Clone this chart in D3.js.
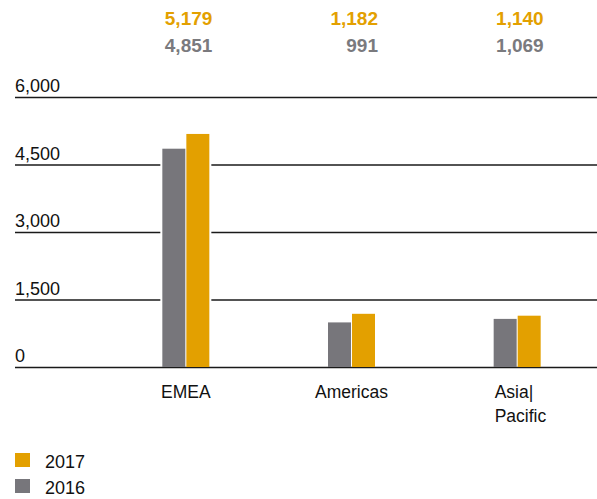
<!DOCTYPE html>
<html>
<head>
<meta charset="utf-8">
<script src="https://cdnjs.cloudflare.com/ajax/libs/d3/7.8.5/d3.min.js"></script>
<style>
  body { margin: 0; background: #fff; }
  svg { display: block; font-family: "Liberation Sans", Arial, sans-serif; }
</style>
</head>
<body>
<svg class="chart"></svg>
<script>
// data
const regions = ["EMEA", "Americas", "Asia|Pacific"];
const regionLines = [["EMEA"], ["Americas"], ["Asia|", "Pacific"]];
const years = ["2016", "2017"];
const values2016 = [4851, 991, 1069];
const values2017 = [5179, 1182, 1140];
const yTicks = [0, 1500, 3000, 4500, 6000];

const colors = {"2016": "#77767b", "2017": "#e3a000"};
const textColors = {"2016": "#7a7a7e", "2017": "#e3a000"};

const canvas = {width: 597, height: 499};
const plot = {left: 15, right: 597, top: 97, bottom: 367};

const svg = d3.select(".chart")
    .attr("width", canvas.width)
    .attr("height", canvas.height);

const y = d3.scaleLinear()
    .domain([0, 6000])
    .range([plot.bottom, plot.top]);

// category bands; centres at ~186, 351, 517
const x = d3.scaleBand()
    .domain(regions)
    .range([103, 600])
    .paddingInner(0)
    .paddingOuter(0);

const barW = 22.5, barGap = 2;
const xYear = d3.scaleBand()
    .domain(years)
    .range([-(barW + barGap / 2), barW + barGap / 2])
    .paddingInner(barGap / (barW * 2 + barGap));

// gridlines
const gAxis = svg.append("g")
    .attr("transform", "translate(" + plot.right + ",0)")
    .call(d3.axisRight(y).tickValues(yTicks).tickSize(-(plot.right - plot.left)).tickFormat(""));
gAxis.select(".domain").remove();
gAxis.selectAll(".tick line")
    .attr("stroke", "#1a1a1a")
    .attr("stroke-width", 1.3);

// tick labels sit above the lines on the left
svg.append("g").selectAll("text")
    .data(yTicks)
    .enter()
    .append("text")
    .attr("x", plot.left)
    .attr("y", d => y(d) - 5)
    .attr("font-size", 18)
    .attr("fill", "#111")
    .text(d => d3.format(",")(d));

const table = regions.map((r, i) => ({
    region: r,
    lines: regionLines[i],
    vals: [{year: "2016", v: values2016[i]}, {year: "2017", v: values2017[i]}]
}));

const groups = svg.selectAll(".region")
    .data(table)
    .enter()
    .append("g")
    .attr("class", "region")
    .attr("transform", d => "translate(" + (x(d.region) + x.bandwidth() / 2) + ",0)");

// white knockout behind the bars to break gridlines
groups.append("rect")
    .attr("x", -(barW + barGap / 2) - 2)
    .attr("width", barW * 2 + barGap + 4)
    .attr("y", d => y(d3.max(d.vals, v => v.v)) - 2)
    .attr("height", d => plot.bottom - 1 - (y(d3.max(d.vals, v => v.v)) - 2))
    .attr("fill", "#fff");

groups.selectAll(".bar")
    .data(d => d.vals)
    .enter()
    .append("rect")
    .attr("class", "bar")
    .attr("x", d => xYear(d.year))
    .attr("width", xYear.bandwidth())
    .attr("y", d => y(d.v))
    .attr("height", d => y(0) - y(d.v))
    .attr("fill", d => colors[d.year]);

// value labels at the top
groups.selectAll(".val")
    .data(d => d.vals)
    .enter()
    .append("text")
    .attr("class", "val")
    .attr("x", barW + barGap / 2 + 3)
    .attr("y", d => d.year === "2017" ? 25 : 52)
    .attr("text-anchor", "end")
    .attr("font-size", 19)
    .attr("font-weight", "bold")
    .attr("fill", d => textColors[d.year])
    .text(d => d3.format(",")(d.v));

// category labels
groups.each(function(d) {
    const g = d3.select(this);
    const t = g.append("text")
        .attr("font-size", 17.5)
        .attr("fill", "#111");
    d.lines.forEach((line, i) => {
        t.append("tspan")
            .attr("x", 0)
            .attr("y", 398 + i * 24)
            .text(line);
    });
    if (d.lines.length > 1) {
        // left-align multi-line label at the bar group's left edge
        t.selectAll("tspan").attr("x", -(barW + barGap / 2) + 1);
    } else {
        t.attr("text-anchor", "middle");
    }
});

// legend
const legend = svg.append("g")
    .selectAll("g")
    .data(["2017", "2016"])
    .enter()
    .append("g")
    .attr("transform", (d, i) => "translate(15," + (453 + i * 26) + ")");

legend.append("rect")
    .attr("width", 15)
    .attr("height", 14)
    .attr("fill", d => colors[d]);

legend.append("text")
    .attr("x", 30)
    .attr("y", 15)
    .attr("font-size", 18)
    .attr("fill", "#111")
    .text(d => d);
</script>
</body>
</html>
